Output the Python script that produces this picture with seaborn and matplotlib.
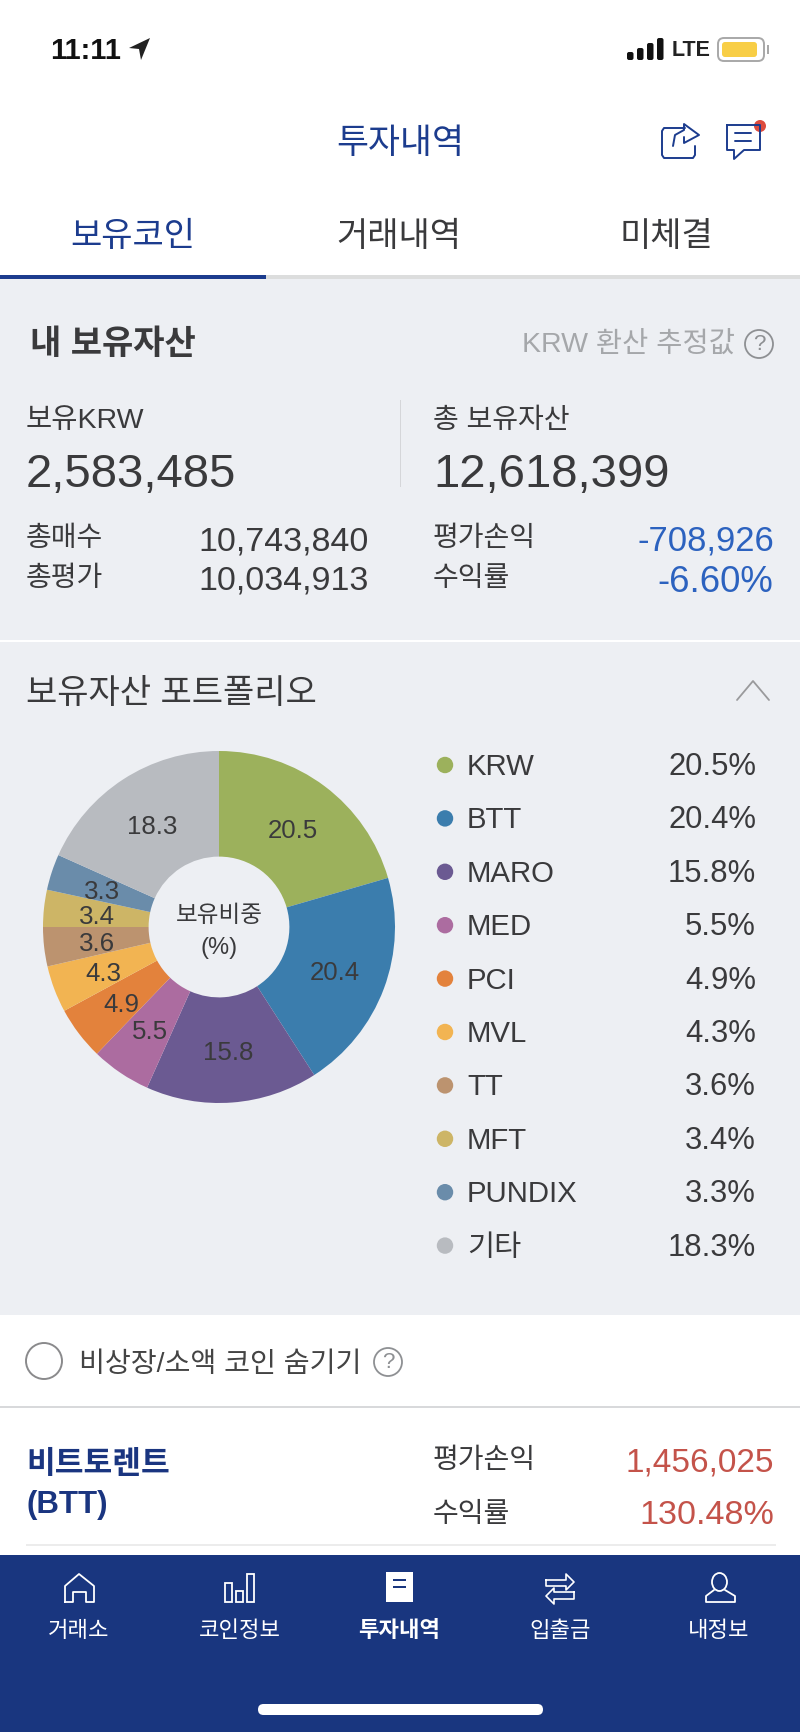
import re
import pandas as pd
import matplotlib.pyplot as plt
from matplotlib.patches import Rectangle, Circle, Ellipse, FancyBboxPatch, Polygon
import seaborn as sns

sns.set_theme(style="white")
plt.rcParams['font.family'] = ['Liberation Sans', 'Noto Sans CJK KR', 'DejaVu Sans']

# Datos
coins = ['KRW', 'BTT', 'MARO', 'MED', 'PCI', 'MVL', 'TT', 'MFT', 'PUNDIX', '기타']
shares = [20.5, 20.4, 15.8, 5.5, 4.9, 4.3, 3.6, 3.4, 3.3, 18.3]
coin_colors = ['#9CB15C', '#3B7DAD', '#6B5A92', '#AC6CA0', '#E3823C',
               '#F2B452', '#BC936F', '#CDB566', '#6A8CAA', '#B8BBC0']
tabs = ['보유코인', '거래내역', '미체결']
nav_labels = ['거래소', '코인정보', '투자내역', '입출금', '내정보']

NAVY = '#19367F'
TITLE_BLUE = '#1C3C8E'
DARK = '#3A3A3C'
BG = '#EDEFF3'
LOSS = '#2C62BF'
GAIN = '#C4534A'

W, H = 800, 1732
fig = plt.figure(figsize=(W / 100, H / 100), dpi=100, facecolor='white')
ax = fig.add_axes([0, 0, 1, 1], zorder=0)
ax.set_xlim(0, W)
ax.set_ylim(H, 0)
ax.axis('off')


def txt(x, y, s, size, color=DARK, ha='left', weight='normal'):
    # el centro de la caja queda alto, más aún con hangul
    dy = 4.5 if re.search('[가-힣]', s) else 3
    ax.text(x, y + dy, s, fontsize=size, color=color, ha=ha, va='center', weight=weight)


def box(x0, y0, x1, y1, color):
    ax.add_patch(Rectangle((x0, y0), x1 - x0, y1 - y0, fc=color, ec='none'))


def line(xs, ys, color, lw=1.4):
    ax.plot(xs, ys, color=color, lw=lw, solid_capstyle='round', solid_joinstyle='round')


def help_icon(x, y, r, color):
    ax.add_patch(Circle((x, y), r, fc='none', ec=color, lw=1.3))
    ax.text(x, y + 1, '?', fontsize=r * 1.15, color=color, ha='center', va='center')


# Fondos
box(0, 279, W, 1315, BG)
box(0, 640, W, 642, 'white')
box(0, 1406, W, 1408, '#D8D9DB')
box(0, 1555, W, H, NAVY)

# Barra de estado
txt(50, 48, '11:11', 21, '#111111', weight='bold')
ax.add_patch(Polygon([[129, 48], [150, 38], [141, 60], [139, 49]], fc='#222222', ec='none'))
for bx, top in zip([627, 637, 647, 657], [52, 48, 43, 38]):
    ax.add_patch(FancyBboxPatch((bx, top), 6.5, 60 - top, boxstyle='round,pad=0,rounding_size=2',
                                fc='#111111', ec='none'))
txt(672, 47, 'LTE', 15.5, '#222222', weight='bold')
ax.add_patch(FancyBboxPatch((718, 38), 46, 23, boxstyle='round,pad=0,rounding_size=6',
                            fc='white', ec='#A8A8A8', lw=1.4))
ax.add_patch(FancyBboxPatch((722, 42), 35, 15, boxstyle='round,pad=0,rounding_size=3',
                            fc='#F8CE46', ec='none'))
box(767, 45, 769, 54, '#A8A8A8')

# Cabecera
txt(400, 139, '투자내역', 25, TITLE_BLUE, ha='center')
line([685, 664, 662, 662, 664, 693, 695, 695], [128, 128, 131, 155, 158, 158, 155, 146], TITLE_BLUE)
line([673, 675, 684, 684, 699, 684, 684], [146, 135, 130, 124, 135, 143, 137], TITLE_BLUE)
line([727, 760, 760, 744, 734, 734, 727, 727], [125, 125, 150, 150, 159, 150, 150, 125], TITLE_BLUE)
line([735, 751], [133, 133], TITLE_BLUE)
line([735, 751], [141, 141], TITLE_BLUE)
ax.add_patch(Circle((760, 126), 6, fc='#DD4B3E', ec='none'))

# Pestañas
for cx, name, col in zip([133, 399, 666], tabs, [TITLE_BLUE, DARK, DARK]):
    txt(cx, 233, name, 24.5, col, ha='center')
box(0, 275, W, 279, '#DCDDDD')
box(0, 275, 266, 279, TITLE_BLUE)

# Resumen
txt(30, 341, '내 보유자산', 24.5, DARK, weight='bold')
txt(735, 340, 'KRW 환산 추정값', 20.5, '#A5A7AA', ha='right')
help_icon(759, 344, 14, '#8E9093')
txt(26, 417, '보유KRW', 20.5)
txt(26, 472, '2,583,485', 34)
box(399.5, 400, 401, 487, '#D5D6D9')
txt(433, 417, '총 보유자산', 20.2)
txt(433, 472, '12,618,399', 34)
txt(26, 534, '총매수', 20.2)
txt(26, 575, '총평가', 20.2)
txt(369, 539, '10,743,840', 24.5, ha='right')
txt(369, 578, '10,034,913', 24.5, ha='right')
txt(433, 534, '평가손익', 20.2)
txt(433, 575, '수익률', 20.2)
txt(774, 538, '-708,926', 24.9, LOSS, ha='right')
txt(773, 580, '-6.60%', 26.3, LOSS, ha='right')

# Portafolio
txt(26, 690, '보유자산 포트폴리오', 24.5)
line([737, 753, 769], [700, 681, 700], '#9A9A9C', 1.3)

pie_ax = fig.add_axes([(219 - 176) / W, (H - 927 - 176) / H, 352 / W, 352 / H], zorder=1)
_, _, pct_texts = pie_ax.pie(shares, colors=sns.color_palette(coin_colors), startangle=90,
                             counterclock=False, radius=1,
                             wedgeprops={'width': 0.6, 'linewidth': 0},
                             autopct='%.1f', pctdistance=0.7,
                             textprops={'fontsize': 18.6, 'color': DARK})
for t in pct_texts:
    t.set_y(t.get_position()[1] - 0.017)
pie_ax.set_xlim(-1, 1)
pie_ax.set_ylim(-1, 1)
txt(219, 911, '보유비중', 17, ha='center')
txt(219, 945, '(%)', 17, ha='center')

# Leyenda
legend_df = pd.DataFrame({'coin': coins, 'x': 445.0, 'y': [765 + 53.4 * i for i in range(len(coins))]})
sns.scatterplot(data=legend_df, x='x', y='y', hue='coin', palette=coin_colors, s=140,
                linewidth=0, legend=False, ax=ax)
ax.set_xlim(0, W)
ax.set_ylim(H, 0)
for coin, share, y in zip(coins, shares, legend_df['y']):
    txt(467, y - (2 if coin == '기타' else 1), coin, 21.2)
    txt(756, y - 1, f'{share}%', 22.3, ha='right')

# Ocultar monedas
box(0, 1315, W, 1406, 'white')
box(0, 1408, W, 1555, 'white')
box(26, 1544, 776, 1546, '#ECECEC')
ax.add_patch(Circle((44, 1361), 18, fc='white', ec='#8A8A8C', lw=1.4))
txt(79, 1360, '비상장/소액 코인 숨기기', 20.3, '#444444')
help_icon(388, 1362, 14, '#8E9093')

# Primera moneda
txt(26, 1460, '비트토렌트', 22.5, '#1A3580', weight='bold')
txt(26, 1502, '(BTT)', 22.5, '#1A3580', weight='bold')
txt(433, 1457, '평가손익', 20.2)
txt(433, 1510, '수익률', 20.2)
txt(774, 1460, '1,456,025', 24, GAIN, ha='right')
txt(774, 1513, '130.48%', 24.6, GAIN, ha='right')

# Navegación
for cx, name in zip([79, 240, 399, 560, 719], nav_labels):
    active = name == '투자내역'
    txt(cx, 1627, name, 16, 'white', ha='center', weight='bold' if active else 'normal')
line([65, 65, 79, 94, 94, 86, 86, 73, 73, 65], [1602, 1586, 1574, 1586, 1602, 1602, 1592, 1592, 1602, 1602], 'white', 1.3)
for x0, top in zip([225, 236, 247], [1583, 1591, 1574]):
    ax.add_patch(Rectangle((x0, top), 7, 1602 - top, fc='none', ec='white', lw=1.3))
box(386, 1572, 413, 1602, 'white')
box(393, 1579, 406, 1581, NAVY)
box(393, 1586, 406, 1588, NAVY)
line([546, 566, 566, 574, 566, 566, 546, 546], [1580, 1580, 1574, 1582, 1590, 1586, 1586, 1580], 'white', 1.2)
line([574, 554, 554, 546, 554, 554, 574, 574], [1592, 1592, 1588, 1596, 1604, 1599, 1599, 1592], 'white', 1.2)
ax.add_patch(Ellipse((719.5, 1582), 15, 18, fc='none', ec='white', lw=1.3))
line([714, 706, 706, 735, 735, 725], [1590, 1596, 1602, 1602, 1596, 1590], 'white', 1.3)
ax.add_patch(FancyBboxPatch((258, 1704), 285, 11, boxstyle='round,pad=0,rounding_size=5.5',
                            fc='white', ec='none'))

fig.savefig('out.png', dpi=100)
